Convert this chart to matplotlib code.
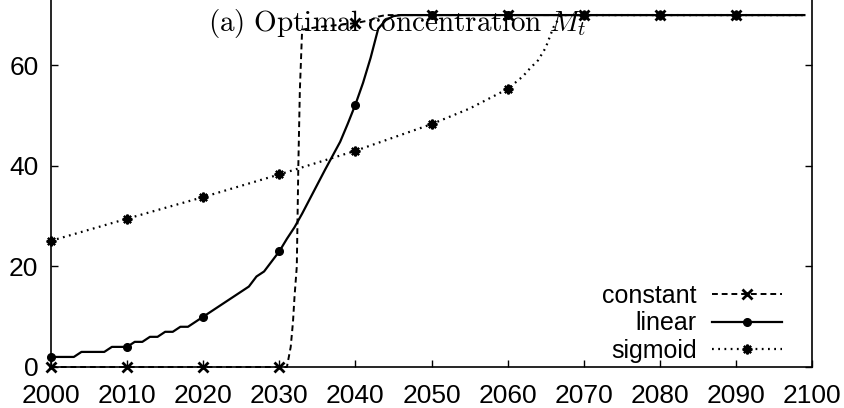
import matplotlib
matplotlib.use("Agg")
import matplotlib.pyplot as plt
import numpy as np

plt.rcParams["font.family"] = ["Liberation Sans", "DejaVu Sans"]
plt.rcParams["mathtext.fontset"] = "cm"

# --- data -------------------------------------------------------------
const_years = [2000, 2010, 2020, 2030, 2031, 2031.5, 2031.8, 2032.0, 2032.3,
               2032.5, 2032.7, 2033.0, 2035, 2040, 2042, 2043, 2044,
               2050, 2060, 2070, 2080, 2090, 2099]
const_vals = [0, 0, 0, 0, 0, 4, 9, 14, 20,
              40, 55, 67.1, 67.6, 68.4, 69.0, 69.7, 70,
              70, 70, 70, 70, 70, 70]

linear_years = list(range(2000, 2047)) + [2050, 2060, 2070, 2080, 2090, 2099]
linear_vals = [2, 2, 2, 2, 3, 3, 3, 3, 4, 4,
               4, 5, 5, 6, 6, 7, 7, 8, 8, 9,
               10, 11, 12, 13, 14, 15, 16, 18, 19, 21,
               23, 25.5, 27.8, 30.5, 33.4, 36.3, 39.2, 42, 44.8, 48.4,
               52.2, 56.5, 61.5, 67.3, 69.0, 69.8, 70,
               70, 70, 70, 70, 70, 70]

sigmoid_years = [2000, 2010, 2020, 2030, 2040, 2050, 2055, 2060, 2062, 2063,
                 2064, 2065, 2066, 2067, 2070, 2080, 2090, 2099]
sigmoid_vals = [25.1, 29.5, 33.8, 38.3, 43.0, 48.3, 51.4, 55.3, 57.8, 59.5,
                61.0, 63.5, 67.5, 70, 70, 70, 70, 70]

series_labels = ["constant", "linear", "sigmoid"]
x_ticks = list(range(2000, 2101, 10))
y_ticks = [0, 20, 40, 60]
title_text = r"$\mathrm{(a)\ Optimal\ concentration}\ M_t$"

# --- figure -----------------------------------------------------------
W, H = 845, 408
fig = plt.figure(figsize=(W / 100, H / 100), dpi=100)
ax = fig.add_axes([51 / W, 41 / H, (812 - 51) / W, 1 - 41 / H])


def decade_mask(years):
    return [float(y).is_integer() and int(y) % 10 == 0 for y in years]


ax.plot(const_years, const_vals, color="black", lw=1.4,
        linestyle=(0, (3, 2)), marker="x", ms=7.5, mew=2,
        markevery=decade_mask(const_years), label=series_labels[0],
        clip_on=False)
ax.plot(linear_years, linear_vals, color="black", lw=1.6,
        linestyle="-", marker="o", ms=5.5,
        markevery=decade_mask(linear_years), label=series_labels[1],
        clip_on=False)
ax.plot(sigmoid_years, sigmoid_vals, color="black", lw=1.6,
        linestyle=(0, (0.8, 2.0)), marker=(8, 2, 0), ms=7, mew=1.6,
        markevery=decade_mask(sigmoid_years), label=series_labels[2],
        clip_on=False)

ax.set_xlim(2000, 2100)
ax.set_ylim(0, 73.0)
ax.set_xticks(x_ticks)
ax.set_yticks(y_ticks)
ax.tick_params(direction="in", length=5, width=1, labelsize=19,
               right=True, top=False)
ax.tick_params(axis="x", pad=12)
ax.tick_params(axis="y", pad=9)
for side in ("left", "bottom", "right"):
    ax.spines[side].set_linewidth(1.2)
ax.spines["top"].set_visible(False)

leg = ax.legend(loc="lower right", bbox_to_anchor=(782 / W, 1 - 363 / H),
                bbox_transform=fig.transFigure, frameon=False,
                markerfirst=False, fontsize=18, handlelength=2.8,
                handletextpad=0.6, borderpad=0, borderaxespad=0,
                labelspacing=0.14)

fig.text(397.5 / W, 1 - 30.5 / H, title_text, ha="center", va="baseline",
         fontsize=21)

fig.savefig("out.png", dpi=100)
